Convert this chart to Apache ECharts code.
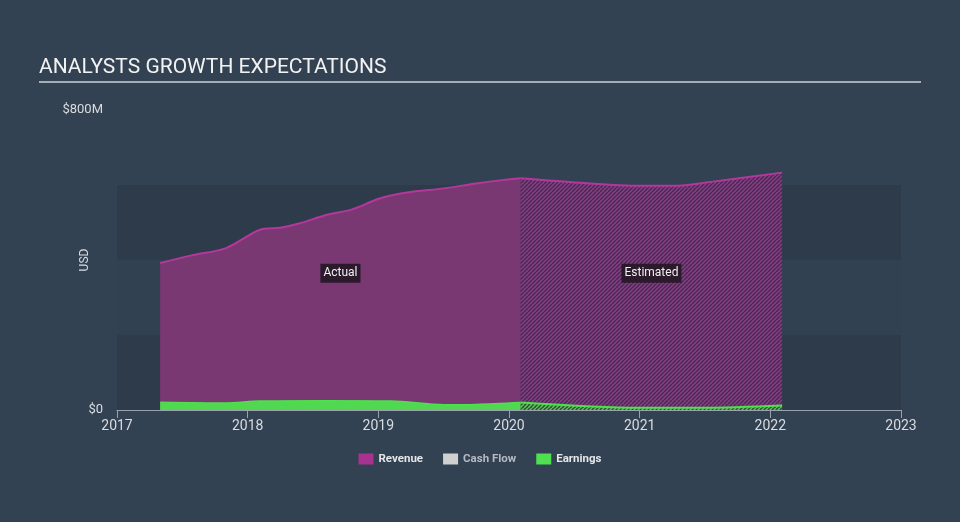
<!DOCTYPE html>
<html><head><meta charset="utf-8">
<script src="https://cdn.jsdelivr.net/npm/echarts@6/dist/echarts.min.js"></script>
<style>html,body{margin:0;padding:0;background:#334252;}#c{width:960px;height:522px;}</style>
</head><body><div id="c"></div>
<script>
const xTicks = [2017, 2018, 2019, 2020, 2021, 2022, 2023];
const yTickLabels = {0: '$0', 800: '$800M'};
const revActualX = [2017.33, 2017.58, 2017.83, 2018.09, 2018.25, 2018.4, 2018.6, 2018.8, 2019.01, 2019.22, 2019.5, 2019.75, 2019.95, 2020.09];
const revActual  = [392, 413, 431, 480, 486, 498, 520, 535, 564, 580, 591, 604, 613, 618];
const revEstX = [2020.09, 2020.54, 2021.0, 2021.26, 2021.56, 2022.09];
const revEst  = [618, 606, 598, 598, 609, 633];
const earnActualX = [2017.33, 2017.83, 2018.09, 2018.6, 2019.1, 2019.5, 2019.75, 2020.09];
const earnActual  = [21, 19, 24, 25, 24, 14, 15, 20];
const earnEstX = [2020.09, 2021.0, 2021.5, 2022.09];
const earnEst  = [20, 6, 6, 12];
const legendNames = ['Revenue', 'Cash Flow', 'Earnings'];

function pair(xs, ys){ return xs.map((x,i)=>[x, ys[i]]); }
function hatch(base, line, alpha){
  const n = 4;
  const c = document.createElement('canvas'); c.width = n; c.height = n;
  const g = c.getContext('2d');
  if (base){ g.fillStyle = base; g.fillRect(0,0,n,n); }
  g.strokeStyle = line; g.lineWidth = 1.5; g.globalAlpha = alpha;
  for (let k=-n;k<=2*n;k+=n){ g.beginPath(); g.moveTo(k,n); g.lineTo(k+n,0); g.stroke(); }
  return c;
}
const chart = echarts.init(document.getElementById('c'), null, {renderer:'canvas'});
const font = 'Roboto, "Noto Sans", sans-serif';
const lbl = (t) => ({show:true, formatter:t, color:'#f0f0f0', fontSize:12, fontFamily:font,
  backgroundColor:'#2a1a2b', padding:[4,3,3,3], position:'inside'});
chart.setOption({
  backgroundColor: '#334252',
  animation: false,
  textStyle: {fontFamily: font},
  grid: {left:117, right:59, top:110, bottom:112, containLabel:false},
  graphic: [
    {type:'text', left:39, top:57, style:{text:'ANALYSTS GROWTH EXPECTATIONS', fill:'#f2f2f2', fontSize:21, fontFamily:font}},
    {type:'line', shape:{x1:39, y1:82, x2:921, y2:82}, style:{stroke:'#a7adb3', lineWidth:2}},
    {type:'text', x:85, y:260, rotation:Math.PI/2, style:{text:'USD', fill:'#d8dce0', fontSize:12, fontFamily:font, align:'center', verticalAlign:'middle'}}
  ],
  legend: {
    bottom: 52, left: 'center', itemWidth:15, itemHeight:11, itemGap:20, icon:'rect',
    textStyle:{color:'#e4e6e8', fontSize:11.5, fontWeight:'bold', fontFamily:font},
    data: [
      {name:legendNames[0], itemStyle:{color:'#a8328f'}},
      {name:legendNames[1], itemStyle:{color:'#d0d0d0'}, textStyle:{color:'#b5bac0'}},
      {name:legendNames[2], itemStyle:{color:'#4fe04f'}}
    ]
  },
  xAxis: {
    type:'value', min:2017, max:2023, interval:1,
    axisLine:{show:true, lineStyle:{color:'#9aa3ad', width:1}},
    axisTick:{show:true, length:8, lineStyle:{color:'#9aa3ad'}},
    axisLabel:{color:'#d8dce0', fontSize:14, margin:9, formatter:v=>String(v)},
    splitLine:{show:false}
  },
  yAxis: {
    type:'value', min:0, max:800, interval:200,
    axisLine:{show:false}, axisTick:{show:false},
    axisLabel:{color:'#d8dce0', fontSize:13, margin:14, formatter:v=>yTickLabels[v] || ''},
    splitLine:{show:false},
    splitArea:{show:true, areaStyle:{color:['#2e3b4a','#324151','#2e3b4a','rgba(0,0,0,0)']}}
  },
  series: [
    {name:'Revenue', type:'line', smooth:0.3, symbol:'none', z:2,
     data: pair(revActualX, revActual),
     lineStyle:{color:'#b4389c', width:2}, itemStyle:{color:'#a8328f'},
     areaStyle:{color:'#7a3873', opacity:1},
     markPoint:{symbol:'rect', symbolSize:1, itemStyle:{color:'rgba(0,0,0,0)'}, data:[{coord:[2018.71, 365], label:lbl('Actual')}]}},
    {name:'Revenue', type:'line', smooth:0.3, symbol:'none', z:2,
     data: pair(revEstX, revEst),
     lineStyle:{color:'#b4389c', width:2}, itemStyle:{color:'#a8328f'},
     areaStyle:{color:{image:hatch('#8f3a89','#3f2e4d',1), repeat:'repeat'}, opacity:1},
     markPoint:{symbol:'rect', symbolSize:1, itemStyle:{color:'rgba(0,0,0,0)'}, data:[{coord:[2021.09, 365], label:lbl('Estimated')}]}},
    {name:'Cash Flow', type:'line', data:[], itemStyle:{color:'#d0d0d0'}},
    {name:'Earnings', type:'line', smooth:0.3, symbol:'none', z:3,
     data: pair(earnActualX, earnActual),
     lineStyle:{color:'#4fe04f', width:1.5}, itemStyle:{color:'#4fe04f'},
     areaStyle:{color:'#51d851', opacity:1}},
    {name:'Earnings', type:'line', smooth:0.3, symbol:'none', z:3,
     data: pair(earnEstX, earnEst),
     lineStyle:{color:'#4fe04f', width:2}, itemStyle:{color:'#4fe04f'},
     areaStyle:{color:{image:hatch('#3a4a3c','#4fe04f',0.9), repeat:'repeat'}, opacity:1}}
  ]
});
</script></body></html>
